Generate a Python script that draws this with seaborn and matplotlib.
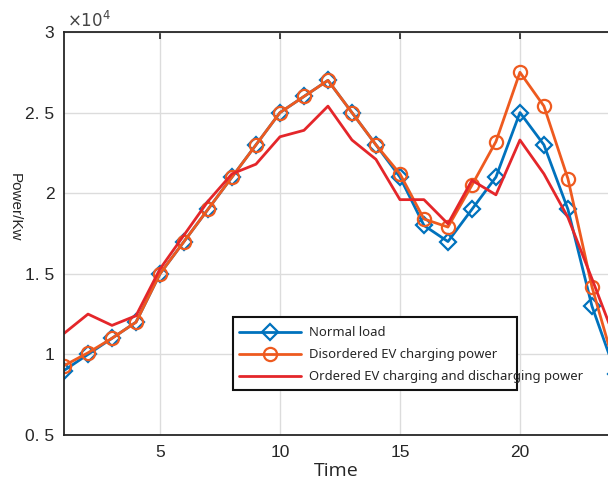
import seaborn as sns
import matplotlib
import matplotlib.pyplot as plt
from matplotlib.patches import Rectangle
import pandas as pd
matplotlib.use('Agg')

# data (kW), hours 1..24
hours = list(range(1, 25))
normal_load = [9000, 10000, 11000, 12000, 15000, 17000, 19000, 21000, 23000, 25000, 26000, 27000,
               25000, 23000, 21000, 18000, 17000, 19000, 21000, 25000, 23000, 19000, 13000, 8800]
disordered = [9300, 10100, 11000, 12000, 15000, 17000, 19000, 21000, 23000, 25000, 26000, 27000,
              25000, 23000, 21200, 18400, 17900, 20500, 23200, 27500, 25400, 20900, 14200, 9000]
ordered = [11300, 12500, 11800, 12400, 15300, 17400, 19500, 21200, 21800, 23500, 23900, 25400,
           23300, 22100, 19600, 19600, 18100, 20800, 19900, 23300, 21200, 18500, 14700, 10800]

y_ticks = [5000, 10000, 15000, 20000, 25000, 30000]
y_tick_labels = ['0. 5', '1', '1. 5', '2', '2. 5', '3']
x_ticks = [5, 10, 15, 20]

labels = ['Normal load', 'Disordered EV charging power', 'Ordered EV charging and discharging power']
colors = ['#0072BD', '#EE5A1F', '#E4262A']

df = pd.DataFrame({'Time': hours, labels[0]: normal_load, labels[1]: disordered, labels[2]: ordered})

sns.set_style("white")
plt.rcParams['font.family'] = ['Liberation Sans', 'DejaVu Sans']

fig = plt.figure(figsize=(6.08, 4.91), dpi=100)
ax = fig.add_axes([64 / 608, 1 - 435 / 491, 1 - 64 / 608, (435 - 32) / 491])

sns.lineplot(data=df, x='Time', y=labels[0], ax=ax, color=colors[0], linewidth=2, marker='D',
             markersize=8.5, markerfacecolor='none', markeredgecolor=colors[0], markeredgewidth=1.6,
             label=labels[0])
sns.lineplot(data=df, x='Time', y=labels[1], ax=ax, color=colors[1], linewidth=2, marker='o',
             markersize=9.5, markerfacecolor='none', markeredgecolor=colors[1], markeredgewidth=1.6,
             label=labels[1])
sns.lineplot(data=df, x='Time', y=labels[2], ax=ax, color=colors[2], linewidth=2, label=labels[2])

ax.set_xlim(1, 23.67)
ax.set_ylim(5000, 30000)
ax.set_xticks(x_ticks)
ax.set_xticklabels([str(t) for t in x_ticks])
ax.set_yticks(y_ticks)
ax.set_yticklabels(y_tick_labels)
ax.tick_params(direction='in', length=5, width=1.2, labelsize=12.5, colors='#222222',
               top=True, right=False, labelcolor='#262626', pad=7)

ax.grid(True, color='#dcdcdc', linewidth=1)
for side in ['left', 'top', 'bottom']:
    ax.spines[side].set_color('#262626')
    ax.spines[side].set_linewidth(1.3)
ax.spines['right'].set_visible(False)

ax.set_xlabel('Time', fontsize=14, family=['Open Sans', 'DejaVu Sans'], labelpad=2)
ax.set_ylabel('Power/Kw', fontsize=11, rotation=270, va='center')
ax.yaxis.set_label_coords(-0.09, 0.566)

ax.text(0.005, 1.005, r'$\times10^4$', transform=ax.transAxes, fontsize=12, color='#444444',
        va='bottom', ha='left')

# legend frame is narrower than its text in the original
frame = Rectangle((0.3107, 0.1117), 0.522, 0.181, transform=ax.transAxes, facecolor='white',
                  edgecolor='#111111', linewidth=1.5, zorder=4.5)
ax.add_patch(frame)
leg = ax.legend(loc='upper left', bbox_to_anchor=(0.314, 0.28),
                prop={'family': ['Noto Sans', 'DejaVu Sans'], 'size': 9.4},
                frameon=False, borderpad=0.3, handlelength=4.8, handletextpad=0.6,
                labelspacing=0.7, borderaxespad=0)
leg.set_zorder(5)

plt.savefig('out.png', dpi=100)
plt.close()
